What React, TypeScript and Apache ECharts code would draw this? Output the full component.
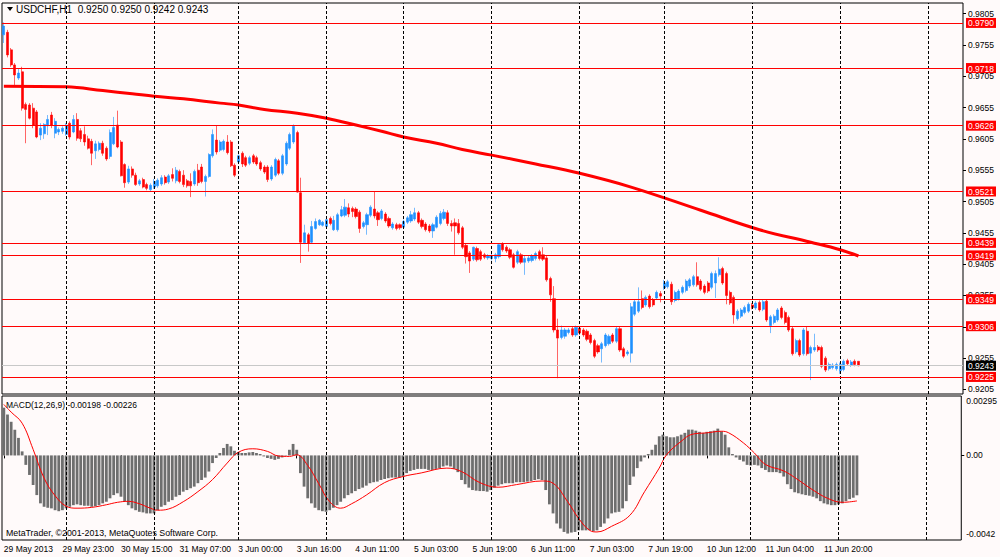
import React, { useEffect, useRef } from "react";
import * as echarts from "echarts";

// ---------- texts ----------
const symbolTitle = "USDCHF,H1";
const lastOHLC = ["0.9250", "0.9250", "0.9242", "0.9243"];
const macdTitle = "MACD(12,26,9)";
const macdLast = ["-0.00198", "-0.00226"];
const copyrightText = "MetaTrader, \u00a92001-2013, MetaQuotes Software Corp.";

// ---------- time axis ----------
const timeLabels = [
  "29 May 2013", "29 May 23:00", "30 May 15:00", "31 May 07:00", "3 Jun 00:00",
  "3 Jun 16:00", "4 Jun 11:00", "5 Jun 03:00", "5 Jun 19:00", "6 Jun 11:00",
  "7 Jun 03:00", "7 Jun 19:00", "10 Jun 12:00", "11 Jun 04:00", "11 Jun 20:00",
];
const labelEveryBars = 16;
const daySeparators = [17, 41, 64, 88, 109, 133, 157, 180, 204, 228, 252];

// ---------- price axis ----------
const priceTicks = [0.9805, 0.9755, 0.9705, 0.9655, 0.9605, 0.9555, 0.9505, 0.9455, 0.9405, 0.9355, 0.9305, 0.9255, 0.9205];
const levelLines = [0.979, 0.9718, 0.9626, 0.9521, 0.9439, 0.9419, 0.9349, 0.9306, 0.9225];
const currentPrice = 0.9243;

// ---------- candles: [open, close, low, high] ----------
const candles = [
  [0.9771, 0.9785, 0.9758, 0.9791], [0.9775, 0.9739, 0.9735, 0.9779], [0.9747, 0.9723, 0.972, 0.975], [0.9723, 0.9707, 0.9691, 0.9726],
  [0.9702, 0.971, 0.9699, 0.9718], [0.9712, 0.9654, 0.965, 0.972], [0.966, 0.9652, 0.9598, 0.9663], [0.9659, 0.9638, 0.9636, 0.9662],
  [0.9654, 0.9627, 0.9622, 0.9662], [0.9648, 0.9608, 0.9606, 0.9651], [0.9611, 0.9622, 0.9603, 0.963], [0.9613, 0.9628, 0.9605, 0.963],
  [0.9626, 0.9636, 0.9611, 0.9643], [0.9643, 0.9627, 0.9622, 0.9648], [0.9614, 0.9633, 0.9606, 0.9638], [0.9616, 0.962, 0.9611, 0.9623],
  [0.9617, 0.9622, 0.9613, 0.9625], [0.9612, 0.9627, 0.961, 0.963], [0.963, 0.9608, 0.9604, 0.9633], [0.9616, 0.9636, 0.9614, 0.9643],
  [0.9636, 0.9606, 0.9602, 0.9646], [0.9618, 0.9605, 0.96, 0.9622], [0.9612, 0.96, 0.9594, 0.9625], [0.9605, 0.959, 0.9588, 0.961],
  [0.9601, 0.9582, 0.9563, 0.9605], [0.9586, 0.9597, 0.9573, 0.9602], [0.9588, 0.9598, 0.9585, 0.9601], [0.9598, 0.9582, 0.9578, 0.9602],
  [0.959, 0.9573, 0.957, 0.9593], [0.9577, 0.9615, 0.9573, 0.962], [0.9597, 0.9623, 0.9595, 0.964], [0.9627, 0.9592, 0.959, 0.965],
  [0.96, 0.9546, 0.9545, 0.9603], [0.9564, 0.9535, 0.9527, 0.9566], [0.9536, 0.9557, 0.9533, 0.9562], [0.9557, 0.9547, 0.9543, 0.9561],
  [0.9547, 0.9532, 0.953, 0.9551], [0.9533, 0.9538, 0.953, 0.9541], [0.954, 0.9528, 0.9526, 0.9543], [0.9532, 0.9526, 0.9523, 0.9535],
  [0.9524, 0.9531, 0.9521, 0.9534], [0.9528, 0.9537, 0.9525, 0.9541], [0.953, 0.9539, 0.9527, 0.9542], [0.9533, 0.9543, 0.953, 0.9547],
  [0.9544, 0.9535, 0.9532, 0.9547], [0.9536, 0.9546, 0.9533, 0.9549], [0.9548, 0.9542, 0.9537, 0.9558], [0.9538, 0.9555, 0.9534, 0.956],
  [0.9553, 0.9537, 0.9534, 0.9556], [0.9547, 0.9532, 0.9528, 0.9555], [0.9538, 0.953, 0.9527, 0.9541], [0.9537, 0.953, 0.9512, 0.955],
  [0.9533, 0.9553, 0.953, 0.9556], [0.9555, 0.9535, 0.953, 0.9565], [0.956, 0.9537, 0.9534, 0.9565], [0.9537, 0.9545, 0.9513, 0.9548],
  [0.9545, 0.958, 0.9543, 0.9582], [0.9578, 0.9612, 0.9575, 0.962], [0.9603, 0.9584, 0.958, 0.9627], [0.9587, 0.96, 0.9584, 0.9603],
  [0.9588, 0.9601, 0.9585, 0.9604], [0.96, 0.9583, 0.958, 0.9611], [0.96, 0.9562, 0.956, 0.9603], [0.9563, 0.9547, 0.9544, 0.9566],
  [0.9568, 0.9578, 0.9565, 0.958], [0.9582, 0.9565, 0.956, 0.9585], [0.9575, 0.9563, 0.956, 0.9578], [0.9566, 0.9575, 0.9563, 0.9578],
  [0.9578, 0.9568, 0.9565, 0.9581], [0.9575, 0.9565, 0.9562, 0.9578], [0.9567, 0.9557, 0.9554, 0.957], [0.956, 0.9552, 0.9549, 0.9563],
  [0.956, 0.954, 0.9536, 0.9563], [0.9541, 0.956, 0.9538, 0.9563], [0.9547, 0.9572, 0.9544, 0.9575], [0.957, 0.955, 0.9547, 0.9573],
  [0.955, 0.9578, 0.9547, 0.9581], [0.9565, 0.9598, 0.9562, 0.9601], [0.959, 0.9612, 0.9587, 0.9615], [0.96, 0.9625, 0.9597, 0.9628],
  [0.9615, 0.952, 0.9519, 0.9618], [0.9519, 0.944, 0.9407, 0.9543], [0.9439, 0.9455, 0.9437, 0.9468], [0.9452, 0.9438, 0.9425, 0.9455],
  [0.944, 0.9465, 0.9438, 0.9474], [0.9462, 0.9473, 0.946, 0.9478], [0.9468, 0.9475, 0.9466, 0.9477], [0.9467, 0.9472, 0.9465, 0.9474],
  [0.9465, 0.9476, 0.9462, 0.9478], [0.9478, 0.947, 0.9467, 0.9481], [0.946, 0.9475, 0.9458, 0.9482], [0.946, 0.9484, 0.9457, 0.9487],
  [0.9482, 0.9492, 0.948, 0.9498], [0.9483, 0.9496, 0.948, 0.9509], [0.9495, 0.9485, 0.948, 0.9502], [0.9494, 0.9489, 0.948, 0.9497],
  [0.9493, 0.9481, 0.9478, 0.9496], [0.9488, 0.9462, 0.9455, 0.9491], [0.9465, 0.9471, 0.9462, 0.9474], [0.9468, 0.9484, 0.9452, 0.9487],
  [0.9483, 0.9496, 0.948, 0.9499], [0.9493, 0.9482, 0.9478, 0.9521], [0.9487, 0.9476, 0.9466, 0.949], [0.9478, 0.949, 0.9475, 0.9493],
  [0.9485, 0.9474, 0.9471, 0.9488], [0.9478, 0.9466, 0.9463, 0.9481], [0.9463, 0.9469, 0.946, 0.9472], [0.9468, 0.9462, 0.9459, 0.9471],
  [0.9468, 0.9463, 0.946, 0.947], [0.9464, 0.9473, 0.9461, 0.9476], [0.9472, 0.9479, 0.9469, 0.9482], [0.9474, 0.9484, 0.9471, 0.949],
  [0.9477, 0.9487, 0.9474, 0.9495], [0.9487, 0.9472, 0.9469, 0.949], [0.9475, 0.9465, 0.9462, 0.9478], [0.9469, 0.946, 0.9457, 0.9472],
  [0.9466, 0.9458, 0.9455, 0.9469], [0.9458, 0.9468, 0.9447, 0.9471], [0.9464, 0.948, 0.9462, 0.9483], [0.947, 0.9486, 0.9467, 0.949],
  [0.9478, 0.9488, 0.9475, 0.9493], [0.9487, 0.947, 0.9466, 0.9491], [0.947, 0.9466, 0.9457, 0.9475], [0.9471, 0.9466, 0.942, 0.9478],
  [0.947, 0.9455, 0.9452, 0.9477], [0.9463, 0.9432, 0.9429, 0.9466], [0.9435, 0.9417, 0.9406, 0.9438], [0.9423, 0.941, 0.9391, 0.9426],
  [0.9413, 0.9432, 0.941, 0.9433], [0.943, 0.9412, 0.9409, 0.9433], [0.9425, 0.9413, 0.941, 0.9428], [0.942, 0.9416, 0.9413, 0.9423],
  [0.9415, 0.9418, 0.9412, 0.9421], [0.9414, 0.9418, 0.9411, 0.9421], [0.9414, 0.942, 0.9408, 0.9423], [0.9417, 0.9436, 0.9414, 0.9438],
  [0.9437, 0.9428, 0.9425, 0.944], [0.9432, 0.9426, 0.9423, 0.9435], [0.9428, 0.9416, 0.9413, 0.9431], [0.942, 0.94, 0.9398, 0.9423],
  [0.9408, 0.9425, 0.9405, 0.9428], [0.942, 0.9408, 0.9405, 0.9423], [0.9408, 0.9414, 0.9388, 0.9419], [0.941, 0.9415, 0.9407, 0.9418],
  [0.9411, 0.9418, 0.9408, 0.9421], [0.9414, 0.9422, 0.9411, 0.9425], [0.9425, 0.9414, 0.9411, 0.9428], [0.942, 0.9413, 0.941, 0.9432],
  [0.9415, 0.938, 0.9377, 0.9418], [0.9382, 0.9356, 0.9345, 0.9385], [0.935, 0.93, 0.9296, 0.937], [0.93, 0.9287, 0.9223, 0.9318],
  [0.9288, 0.93, 0.9285, 0.9307], [0.929, 0.93, 0.9286, 0.9303], [0.9296, 0.93, 0.9293, 0.9303], [0.9302, 0.9292, 0.9289, 0.9305],
  [0.9292, 0.9304, 0.9289, 0.9307], [0.9303, 0.9295, 0.9292, 0.9306], [0.93, 0.9292, 0.9289, 0.9303], [0.9298, 0.9285, 0.9282, 0.9301],
  [0.9292, 0.928, 0.9277, 0.9295], [0.9283, 0.9258, 0.9255, 0.9286], [0.9275, 0.9265, 0.9262, 0.9278], [0.927, 0.9278, 0.9248, 0.9281],
  [0.9275, 0.9292, 0.9272, 0.9295], [0.9278, 0.929, 0.9275, 0.9293], [0.9292, 0.9282, 0.9279, 0.9295], [0.9282, 0.9302, 0.9279, 0.9305],
  [0.9302, 0.9268, 0.9265, 0.9305], [0.927, 0.9258, 0.9255, 0.9273], [0.9262, 0.9265, 0.9259, 0.9268], [0.9263, 0.9337, 0.9248, 0.9343],
  [0.9325, 0.9345, 0.9322, 0.9348], [0.933, 0.9345, 0.9327, 0.9368], [0.935, 0.9336, 0.9333, 0.9363], [0.934, 0.9352, 0.9337, 0.9355],
  [0.9354, 0.9337, 0.9334, 0.9357], [0.9348, 0.934, 0.9337, 0.9351], [0.9351, 0.936, 0.9348, 0.9363], [0.9358, 0.9354, 0.9344, 0.9362],
  [0.9367, 0.9375, 0.9364, 0.938], [0.9369, 0.9377, 0.9366, 0.938], [0.9373, 0.9345, 0.934, 0.9377], [0.9347, 0.936, 0.9344, 0.9363],
  [0.935, 0.9362, 0.9347, 0.9365], [0.936, 0.9368, 0.9357, 0.9371], [0.9363, 0.9378, 0.936, 0.9381], [0.937, 0.938, 0.9367, 0.9383],
  [0.9372, 0.9385, 0.9369, 0.9388], [0.9385, 0.9372, 0.9369, 0.9408], [0.9378, 0.9365, 0.9362, 0.9381], [0.937, 0.936, 0.9357, 0.9373],
  [0.9375, 0.9362, 0.9359, 0.9378], [0.9368, 0.939, 0.9365, 0.9393], [0.9375, 0.939, 0.9351, 0.9395], [0.9388, 0.9397, 0.9385, 0.9416],
  [0.9398, 0.9375, 0.9372, 0.9401], [0.939, 0.9355, 0.9341, 0.9393], [0.936, 0.9343, 0.934, 0.9363], [0.9352, 0.9324, 0.931, 0.9355],
  [0.9318, 0.933, 0.9315, 0.9333], [0.9322, 0.9332, 0.9319, 0.9335], [0.9328, 0.9336, 0.9325, 0.9339], [0.933, 0.9341, 0.9327, 0.9344],
  [0.934, 0.9336, 0.9333, 0.9343], [0.9335, 0.9343, 0.9332, 0.9346], [0.9344, 0.9332, 0.9329, 0.9347], [0.9333, 0.9345, 0.933, 0.9348],
  [0.9346, 0.9316, 0.9313, 0.9349], [0.9307, 0.9321, 0.9295, 0.9324], [0.9312, 0.9322, 0.9309, 0.9325], [0.9316, 0.9332, 0.9313, 0.9335],
  [0.9335, 0.932, 0.9317, 0.9338], [0.9328, 0.9312, 0.9309, 0.9331], [0.932, 0.93, 0.9297, 0.9323], [0.9302, 0.9262, 0.9259, 0.9305],
  [0.9265, 0.9283, 0.9262, 0.9286], [0.9283, 0.926, 0.9257, 0.9286], [0.9262, 0.93, 0.9259, 0.9303], [0.9298, 0.9262, 0.9259, 0.9305],
  [0.9263, 0.9272, 0.922, 0.9275], [0.9268, 0.9272, 0.9265, 0.9294], [0.9273, 0.9268, 0.9265, 0.9276], [0.9272, 0.9242, 0.9239, 0.9275],
  [0.9255, 0.9236, 0.9233, 0.9258], [0.9238, 0.9245, 0.9235, 0.9248], [0.924, 0.9244, 0.9237, 0.9247], [0.9238, 0.9245, 0.9235, 0.9248],
  [0.9235, 0.9245, 0.923, 0.9248], [0.9237, 0.925, 0.9234, 0.9253], [0.9251, 0.9246, 0.9243, 0.9254], [0.9244, 0.9249, 0.9241, 0.9252],
  [0.925, 0.9245, 0.9242, 0.9253], [0.925, 0.9243, 0.9242, 0.925],
];

// ---------- moving average: [bar index, value] ----------
const maPoints = [
  [0, 0.9689], [17, 0.9688], [27, 0.9682], [35, 0.9677], [41, 0.9673], [49, 0.9669], [59, 0.9662], [64, 0.9659],
  [71, 0.9652], [80, 0.9646], [88, 0.9638], [96, 0.9627], [103, 0.9617], [109, 0.9608], [118, 0.9598], [125, 0.9588],
  [133, 0.9579], [145, 0.9565], [157, 0.955], [171, 0.9528], [190, 0.9491], [206, 0.946], [220, 0.944], [228, 0.9428], [233, 0.9418],
];

// ---------- MACD ----------
const macdHist = [
  0.00237, 0.00203, 0.00167, 0.00128, 0.00087, 0.0002, -0.00047, -0.00097, -0.00147, -0.00197,
  -0.00238, -0.00255, -0.0026, -0.00263, -0.00272, -0.00277, -0.00272, -0.00263, -0.00255, -0.00247,
  -0.00243, -0.00247, -0.0025, -0.0025, -0.00255, -0.00252, -0.00247, -0.00238, -0.0023, -0.00213,
  -0.00197, -0.00188, -0.00205, -0.0023, -0.00247, -0.00263, -0.00272, -0.0028, -0.00283, -0.00288,
  -0.00288, -0.00288, -0.00272, -0.00255, -0.00247, -0.0023, -0.00222, -0.00205, -0.00197, -0.0018,
  -0.00172, -0.00163, -0.00155, -0.00138, -0.00122, -0.0011, -0.0008, -0.00038, -0.00013, 0.00012,
  0.00037, 0.00057, 0.00045, 0.00023, 0.00017, 0.00012, 0.00012, 0.00015, 0.00017, 0.00012,
  0.00007, -0.00005, -0.00013, -0.00017, -0.00022, -0.00017, -0.0001, -0.00002, 0.00028, 0.00057,
  0.00028, -0.00088, -0.00155, -0.00213, -0.00238, -0.0026, -0.00272, -0.00277, -0.0028, -0.00272,
  -0.0026, -0.00247, -0.0023, -0.00213, -0.00197, -0.00188, -0.00177, -0.00167, -0.0016, -0.0015,
  -0.00138, -0.00133, -0.0013, -0.00122, -0.00117, -0.00113, -0.0011, -0.0011, -0.0011, -0.00105,
  -0.00088, -0.00077, -0.00072, -0.00067, -0.00067, -0.00067, -0.00072, -0.00072, -0.00067, -0.00063,
  -0.00055, -0.0005, -0.00055, -0.00067, -0.00083, -0.00122, -0.00143, -0.0016, -0.00172, -0.00175,
  -0.00177, -0.00177, -0.0018, -0.00172, -0.0016, -0.0015, -0.00143, -0.00138, -0.00138, -0.00138,
  -0.00133, -0.00133, -0.00133, -0.0013, -0.00127, -0.00122, -0.00118, -0.00122, -0.00172, -0.00243,
  -0.00288, -0.00338, -0.00363, -0.0038, -0.00388, -0.00383, -0.0038, -0.00372, -0.00372, -0.00372,
  -0.00372, -0.00377, -0.00372, -0.00355, -0.00338, -0.00313, -0.00288, -0.00283, -0.0028, -0.00263,
  -0.00227, -0.00147, -0.00105, -0.00063, -0.0003, -0.0001, 0.00007, 0.00028, 0.00053, 0.00095,
  0.00103, 0.00095, 0.0009, 0.0009, 0.00095, 0.00103, 0.00112, 0.00128, 0.00128, 0.00123,
  0.00117, 0.00112, 0.00117, 0.0012, 0.00123, 0.00133, 0.0012, 0.00103, 0.0004, 0.00007,
  -0.0001, -0.00022, -0.0003, -0.00047, -0.0005, -0.00047, -0.0005, -0.00063, -0.00072, -0.00083,
  -0.00083, -0.00083, -0.00088, -0.00105, -0.00143, -0.00167, -0.00183, -0.00188, -0.00193, -0.00197,
  -0.002, -0.00205, -0.00213, -0.00227, -0.00238, -0.00243, -0.00247, -0.00247, -0.00243, -0.00238,
  -0.00227, -0.00217, -0.0021, -0.00198,
];
const macdSignal = [
  [0, 0.00253], [2, 0.00215], [5, 0.0016], [8, 0.0003], [11, -0.00113], [14, -0.002], [17, -0.00252], [20, -0.00262],
  [24, -0.00258], [28, -0.00245], [31, -0.00233], [34, -0.00228], [37, -0.0024], [40, -0.00262], [42, -0.00272], [45, -0.00266],
  [49, -0.0023], [53, -0.0018], [57, -0.0012], [61, -0.00038], [64, 0.00015], [68, 0.00033], [72, 0.0002], [75, -0.00003],
  [78, -0.00005], [80, 0.00003], [83, -0.0005], [86, -0.0014], [89, -0.0023], [92, -0.00262], [95, -0.0024], [99, -0.00197],
  [104, -0.00135], [109, -0.00105], [114, -0.00087], [121, -0.00063], [125, -0.0008], [130, -0.00135], [135, -0.00158], [140, -0.00145],
  [147, -0.00127], [150, -0.00138], [154, -0.0023], [157, -0.00313], [160, -0.00372], [162, -0.0038], [166, -0.00352], [171, -0.00297],
  [175, -0.0018], [179, -0.00063], [181, 0.00003], [185, 0.0007], [188, 0.00105], [192, 0.00112], [196, 0.0012], [198, 0.00112],
  [202, 0.00062], [205, 0.00012], [208, -0.00045], [213, -0.00077], [217, -0.00122], [221, -0.00172], [225, -0.00213], [229, -0.00233], [233, -0.00226],
];
const macdAxisLabels = ["0.00295", "0.00", "-0.0042"];

const SLOTS = 262;
const FONT = "'Liberation Sans', Arial, sans-serif";
const FS = 8.5;

export default function App() {
  const ref = useRef<HTMLDivElement>(null);

  useEffect(() => {
    if (!ref.current) return;
    const chart = echarts.init(ref.current, undefined, { renderer: "svg" });

    const categories = Array.from({ length: SLOTS }, (_, i) => String(i));
    const isLabelIdx = (i: number) => i % labelEveryBars === 0 && i / labelEveryBars < timeLabels.length;

    const gridRight = 963;
    const priceMin = 0.91978;
    const priceMax = 0.98218;
    const macdMin = -0.0042;
    const macdMax = 0.00295;
    const macdLabelPos = [macdMax - 0.00025, 0, macdMin + 0.0003];

    const sepLines = daySeparators.map((i) => ({ xAxis: i }));
    const sepStyle = { color: "#000", width: 1, type: [3, 2] as any };

    const boxValues = [...levelLines, currentPrice];

    const levelData = levelLines.map((v) => ({
      yAxis: v,
      lineStyle: { color: "#ff0000", width: 1, type: "solid" },
    }));
    const currentData = {
      yAxis: currentPrice,
      lineStyle: { color: "#c8c8c8", width: 1, type: "solid" },
    };

    const boxRich = {
      lvl: { backgroundColor: "#ff0000", color: "#ffffff", padding: [1, 2, 0, 2], fontSize: FS, fontFamily: FONT },
      cur: { backgroundColor: "#000000", color: "#ffffff", padding: [1, 2, 0, 2], fontSize: FS, fontFamily: FONT },
    };

    const textEls: any[] = [
      { type: "polygon", id: "tri", shape: { points: [[7, 7], [13, 7], [10, 11]] }, style: { fill: "#000" }, z: 10 },
      {
        type: "text",
        id: "title",
        x: 16,
        y: 9.5,
        style: { text: `${symbolTitle}  ${lastOHLC.join(" ")}`, font: `10px ${FONT}`, fill: "#000", verticalAlign: "middle" },
        z: 10,
      },
      {
        type: "text",
        id: "macdTitle",
        x: 6,
        y: 405,
        style: { text: `${macdTitle} ${macdLast.join(" ")}`, font: `${FS}px ${FONT}`, fill: "#000", verticalAlign: "middle" },
        z: 10,
      },
      {
        type: "text",
        id: "copy",
        x: 6,
        y: 533,
        style: { text: copyrightText, font: `8.8px ${FONT}`, fill: "#000", verticalAlign: "middle" },
        z: 10,
      },
    ];

    const option: any = {
      animation: false,
      backgroundColor: "#fffafa",
      textStyle: { fontFamily: FONT },
      grid: [
        { left: 2, top: 3, width: 961, height: 391, show: true, borderColor: "#000", borderWidth: 1, backgroundColor: "transparent" },
        { left: 2, top: 396, width: 961, height: 144, show: true, borderColor: "#000", borderWidth: 1, backgroundColor: "transparent" },
      ],
      xAxis: [
        { type: "category", gridIndex: 0, data: categories, boundaryGap: true, show: false },
        {
          type: "category",
          gridIndex: 1,
          data: categories,
          boundaryGap: true,
          axisLine: { show: false },
          axisTick: { show: true, alignWithLabel: true, interval: (i: number) => isLabelIdx(i), length: 3, lineStyle: { color: "#000" } },
          axisLabel: {
            interval: (i: number) => isLabelIdx(i),
            formatter: (_v: string, i: number) => (isLabelIdx(i) ? timeLabels[i / labelEveryBars] : ""),
            align: "left",
            fontSize: FS,
            fontFamily: FONT,
            color: "#000",
            margin: 4,
          },
          splitLine: { show: false },
        },
      ],
      yAxis: [
        {
          type: "value",
          gridIndex: 0,
          position: "right",
          min: priceMin,
          max: priceMax,
          axisLine: { show: false },
          splitLine: { show: false },
          axisTick: { show: true, customValues: priceTicks, length: 3, lineStyle: { color: "#000" } },
          axisLabel: { show: false, customValues: priceTicks },
        },
        {
          type: "value",
          gridIndex: 1,
          position: "right",
          min: macdMin,
          max: macdMax,
          axisLine: { show: false },
          splitLine: { show: false },
          axisTick: { show: true, customValues: [0], length: 3, lineStyle: { color: "#000" } },
          axisLabel: {
            customValues: macdLabelPos,
            interval: 0,
            hideOverlap: false,
            formatter: (v: number) => {
              const k = macdLabelPos.findIndex((p) => Math.abs(p - v) < 1e-9);
              return k >= 0 ? macdAxisLabels[k] : "";
            },
            fontSize: FS,
            fontFamily: FONT,
            color: "#000",
            margin: 5,
          },
        },
        {
          type: "value",
          gridIndex: 0,
          position: "right",
          min: priceMin,
          max: priceMax,
          z: 5,
          axisLine: { show: false },
          splitLine: { show: false },
          axisTick: { show: false },
          axisLabel: {
            customValues: boxValues,
            interval: 0,
            hideOverlap: false,
            formatter: (v: number) => (Math.abs(v - currentPrice) < 1e-9 ? `{cur|${v.toFixed(4)}}` : `{lvl|${v.toFixed(4)}}`),
            rich: boxRich,
            margin: 3,
          },
        },
      ],
      series: [
        {
          type: "candlestick",
          xAxisIndex: 0,
          yAxisIndex: 0,
          data: candles,
          barWidth: 2.6,
          itemStyle: { color: "#1e90ff", color0: "#ff0000", borderColor: "#1e90ff", borderColor0: "#ff0000", borderWidth: 0.6 },
          markLine: {
            silent: true,
            precision: 6,
            symbol: ["none", "none"],
            animation: false,
            label: { show: false },
            lineStyle: sepStyle,
            data: [
              ...sepLines.map((d) => ({ ...d, lineStyle: sepStyle })),
              currentData,
              ...levelData,
            ],
          },
          z: 3,
        },
        {
          type: "line",
          xAxisIndex: 0,
          yAxisIndex: 0,
          data: maPoints,
          smooth: 0.4,
          symbol: "none",
          lineStyle: { color: "#ff0000", width: 3 },
          z: 4,
        },
        {
          type: "bar",
          xAxisIndex: 1,
          yAxisIndex: 1,
          data: macdHist,
          barWidth: 2.8,
          itemStyle: { color: "#6e6e6e" },
          markLine: {
            silent: true,
            symbol: ["none", "none"],
            animation: false,
            label: { show: false },
            lineStyle: sepStyle,
            data: sepLines,
          },
        },
        {
          type: "line",
          xAxisIndex: 1,
          yAxisIndex: 1,
          data: macdSignal,
          smooth: 0.4,
          symbol: "none",
          lineStyle: { color: "#ff0000", width: 1 },
          z: 4,
        },
      ],
      graphic: { elements: textEls },
    };

    chart.setOption(option);

    // price tick labels, placed through the price axis' own scale
    const tickEls = priceTicks.map((v, k) => ({
      type: "text",
      id: `ptick${k}`,
      x: gridRight + 5,
      y: chart.convertToPixel({ yAxisIndex: 0 }, v) as number,
      style: { text: v.toFixed(4), font: `${FS}px ${FONT}`, fill: "#000", verticalAlign: "middle" },
      z: 0,
      zlevel: 0,
    }));
    chart.setOption({ graphic: { elements: [...textEls, ...tickEls] } });

    return () => chart.dispose();
  }, []);

  return (
    <div
      ref={ref}
      style={{ position: "fixed", left: 0, top: 0, width: 1000, height: 557, background: "#fffafa" }}
    />
  );
}
